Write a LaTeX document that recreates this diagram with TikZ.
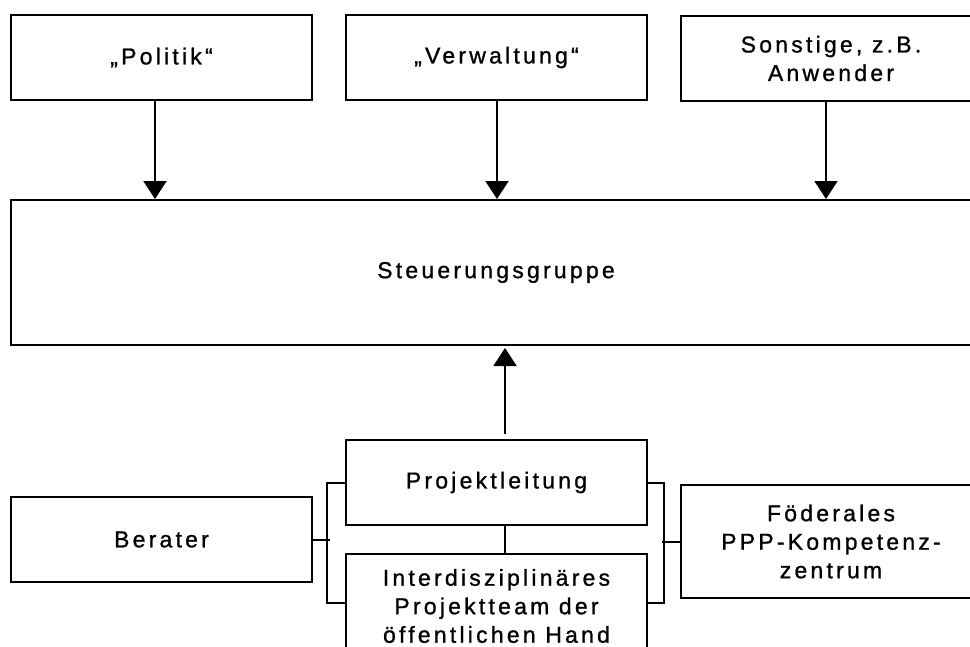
\documentclass[tikz,border=0pt]{standalone}
\usepackage{fontspec}
\setmainfont{Liberation Sans}[LetterSpace=14,FakeBold=1]
\usetikzlibrary{arrows.meta}
\begin{document}
\begin{tikzpicture}[x=1pt,y=-1pt,
  box/.style={draw=black,line width=2pt,rectangle,align=center,inner sep=0pt,
    font=\fontsize{23}{28.5}\selectfont},
  conn/.style={draw=black,line width=2pt},
  arr/.style={conn,-{Triangle[width=23pt,length=18pt]}}]
\useasboundingbox (0,0) rectangle (970,646);
\clip (0,0) rectangle (970,646);
\fill[white] (0,0) rectangle (970,646);
% top row
\node[box,minimum width=301pt,minimum height=85pt] (pol) at (161.5,57.5) {„Politik“};
\node[box,minimum width=301pt,minimum height=85pt] (ver) at (496.5,57.5) {„Verwaltung“};
\node[box,minimum width=300pt,minimum height=85pt] (son) at (831,58.5) {Sonstige, z.B.\\Anwender};
% steering group
\node[box,minimum width=970pt,minimum height=145pt] (steu) at (496,272.5) {Steuerungsgruppe};
% bottom
\node[box,minimum width=301pt,minimum height=85pt] (proj) at (496.5,482.5) {Projektleitung};
\node[box,minimum width=301pt,minimum height=104pt] (inter) at (496.5,606) {Interdisziplinäres\\Projektteam der\\öffentlichen Hand};
\node[box,minimum width=301pt,minimum height=85pt] (ber) at (161.5,539.5) {Berater};
\node[box,minimum width=300pt,minimum height=113pt] (fod) at (831,541.5) {Föderales\\PPP-Kompetenz-\\zentrum};
% arrows down
\draw[arr] ([xshift=-6.5pt]pol.south) -- ([xshift=-6.5pt]pol.south |- steu.north);
\draw[arr] ([xshift=0.5pt]ver.south) -- ([xshift=0.5pt]ver.south |- steu.north);
\draw[arr] ([xshift=-5pt]son.south) -- ([xshift=-5pt]son.south |- steu.north);
% arrow up
\draw[arr] ([xshift=8.5pt,yshift=5pt]proj.north) -- ([xshift=8.5pt,yshift=-2pt]proj.north |- steu.south);
% link between Projektleitung and team
\draw[conn] ([xshift=8.5pt]proj.south) -- ([xshift=8.5pt]proj.south |- inter.north);
% brackets
\draw[conn] (proj.west) -- ++(-18,0) |- ([yshift=3pt]inter.west);
\draw[conn] (proj.east) -- ++(16,0) |- ([yshift=3pt]inter.east);
\draw[conn] (ber.east) -- ++(16.5,0);
\draw[conn] (fod.west) -- ++(-18,0);
\end{tikzpicture}
\end{document}
